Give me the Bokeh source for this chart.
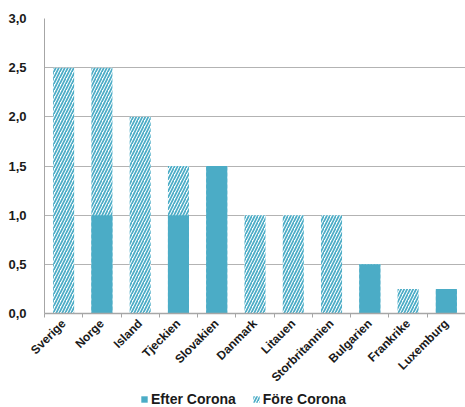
from bokeh.plotting import figure
from bokeh.layouts import column
from bokeh.models import ColumnDataSource, FixedTicker, Range1d, Legend, LegendItem
from bokeh.embed import file_html
from bokeh.resources import INLINE
import math

# Policy-rate levels per country (percent)
countries = ["Sverige", "Norge", "Island", "Tjeckien", "Slovakien", "Danmark",
             "Litauen", "Storbritannien", "Bulgarien", "Frankrike", "Luxemburg"]
fore_corona = [2.5, 2.5, 2.0, 1.5, 1.5, 1.0, 1.0, 1.0, 0.5, 0.25, 0.25]
efter_corona = [0.0, 1.0, 0.0, 1.0, 1.5, 0.0, 0.0, 0.0, 0.5, 0.0, 0.25]
y_ticks = [0.0, 0.5, 1.0, 1.5, 2.0, 2.5, 3.0]

TEAL = "#4BACC6"
FONT = "Liberation Sans"
TEXT = "#1a1a1a"

fore_style = dict(fill_color="white", line_color=None, hatch_pattern="/",
                  hatch_color=TEAL, hatch_scale=6, hatch_weight=1.7)
efter_style = dict(fill_color=TEAL, line_color=None)

x = [i + 0.5 for i in range(len(countries))]
src = ColumnDataSource(dict(x=x, fore=fore_corona, efter=efter_corona))

p = figure(width=465, height=392, output_backend="svg", toolbar_location=None,
           x_range=Range1d(0, len(countries)), y_range=Range1d(0, 3.0))
p.min_border_left = 44
p.min_border_right = 0
p.min_border_top = 18
p.min_border_bottom = 76
p.outline_line_color = None
p.background_fill_color = "white"
p.border_fill_color = "white"

# hatched bars first, solid bars drawn over them
p.vbar(x="x", top="fore", width=0.55, source=src, **fore_style)
p.vbar(x="x", top="efter", width=0.55, source=src, **efter_style)

# y axis
p.yaxis.ticker = FixedTicker(ticks=y_ticks)
p.yaxis.major_label_overrides = {t: f"{t:.1f}".replace(".", ",") for t in y_ticks}
p.yaxis.major_label_text_font = FONT
p.yaxis.major_label_text_font_style = "bold"
p.yaxis.major_label_text_font_size = "13px"
p.yaxis.major_label_text_color = TEXT
p.yaxis.axis_line_color = "#a6a6a6"
p.yaxis.major_tick_line_color = None
p.yaxis.minor_tick_line_color = None
p.yaxis.major_label_standoff = 12

# x axis: labels at category centres, tick marks at the boundaries
p.xaxis.ticker = FixedTicker(ticks=x, minor_ticks=list(range(len(countries) + 1)))
p.xaxis.major_label_overrides = {xi: c for xi, c in zip(x, countries)}
p.xaxis.major_label_orientation = math.pi / 4
p.xaxis.major_label_text_font = FONT
p.xaxis.major_label_text_font_style = "bold"
p.xaxis.major_label_text_font_size = "12px"
p.xaxis.major_label_text_color = TEXT
p.xaxis.axis_line_color = "#a6a6a6"
p.xaxis.axis_line_width = 1.5
p.xaxis.major_tick_line_color = None
p.xaxis.minor_tick_line_color = "#a6a6a6"
p.xaxis.minor_tick_out = 4
p.xaxis.minor_tick_in = 0
p.xaxis.major_label_standoff = 2

p.xgrid.grid_line_color = None
p.ygrid.grid_line_color = "#b3b3b3"
p.ygrid.grid_line_width = 1.2

# legend strip underneath the chart (its key glyphs sit outside the visible range)
lg = figure(width=465, height=15, output_backend="svg", toolbar_location=None,
            x_range=Range1d(0, 1), y_range=Range1d(0, 1))
lg.min_border = 0
lg.axis.visible = False
lg.grid.visible = False
lg.outline_line_color = None
lg.border_fill_color = "white"
key_src = ColumnDataSource(dict(x=[5.0], top=[0.5]))
k_efter = lg.vbar(x="x", top="top", width=0.1, source=key_src, **efter_style)
k_fore = lg.vbar(x="x", top="top", width=0.1, source=key_src, **fore_style)

legend = Legend(items=[LegendItem(label="Efter Corona", renderers=[k_efter]),
                       LegendItem(label="Före Corona", renderers=[k_fore])],
                orientation="horizontal", location=(96, 0),
                label_text_font=FONT, label_text_font_style="bold",
                label_text_font_size="14px", label_text_color=TEXT,
                glyph_width=8, glyph_height=8, label_height=15, spacing=16,
                padding=0, label_standoff=3, margin=0,
                border_line_color=None, background_fill_alpha=0)
lg.add_layout(legend, "center")

layout = column(p, lg, spacing=0)
open("out.html", "w").write(file_html(layout, INLINE))
